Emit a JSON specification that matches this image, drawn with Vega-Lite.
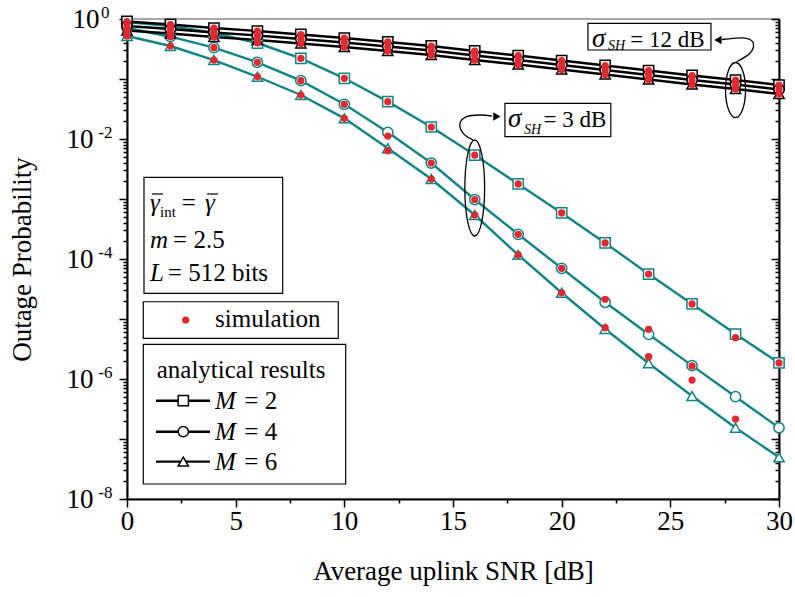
{
  "$schema": "https://vega.github.io/schema/vega-lite/v6.json",
  "width": 652,
  "height": 480,
  "autosize": {"type": "none"},
  "padding": {"left": 127, "top": 19, "right": 16, "bottom": 98},
  "config": {
    "font": "Liberation Serif",
    "view": {"stroke": "#8c8c8c", "strokeWidth": 1.5},
    "axis": {"domainColor": "#000000", "domainWidth": 2, "tickColor": "#000000", "tickWidth": 1.5, "labelColor": "#000000", "titleColor": "#000000", "labelFont": "Liberation Serif", "titleFont": "Liberation Serif", "grid": false, "titleFontWeight": "normal"}
  },
  "datasets": {
    "curves": [
      {"snr": 0, "M": "2", "s": "3", "ana": 0.891, "sim": 0.891},
      {"snr": 2, "M": "2", "s": "3", "ana": 0.764, "sim": 0.764},
      {"snr": 4, "M": "2", "s": "3", "ana": 0.584, "sim": 0.584},
      {"snr": 6, "M": "2", "s": "3", "ana": 0.398, "sim": 0.398},
      {"snr": 8, "M": "2", "s": "3", "ana": 0.221, "sim": 0.221},
      {"snr": 10, "M": "2", "s": "3", "ana": 0.1027, "sim": 0.1027},
      {"snr": 12, "M": "2", "s": "3", "ana": 0.0419, "sim": 0.0419},
      {"snr": 14, "M": "2", "s": "3", "ana": 0.01585, "sim": 0.01585},
      {"snr": 16, "M": "2", "s": "3", "ana": 0.0054, "sim": 0.0054},
      {"snr": 18, "M": "2", "s": "3", "ana": 0.00178, "sim": 0.00178},
      {"snr": 20, "M": "2", "s": "3", "ana": 5.85e-4, "sim": 5.85e-4},
      {"snr": 22, "M": "2", "s": "3", "ana": 1.85e-4, "sim": 1.85e-4},
      {"snr": 24, "M": "2", "s": "3", "ana": 5.62e-5, "sim": 5.62e-5},
      {"snr": 26, "M": "2", "s": "3", "ana": 1.78e-5, "sim": 1.78e-5},
      {"snr": 28, "M": "2", "s": "3", "ana": 5.62e-6, "sim": 4.88e-6},
      {"snr": 30, "M": "2", "s": "3", "ana": 1.85e-6, "sim": 1.85e-6},
      {"snr": 0, "M": "4", "s": "3", "ana": 0.708, "sim": 0.708},
      {"snr": 2, "M": "4", "s": "3", "ana": 0.507, "sim": 0.507},
      {"snr": 4, "M": "4", "s": "3", "ana": 0.333, "sim": 0.333},
      {"snr": 6, "M": "4", "s": "3", "ana": 0.19, "sim": 0.19},
      {"snr": 8, "M": "4", "s": "3", "ana": 0.0937, "sim": 0.0937},
      {"snr": 10, "M": "4", "s": "3", "ana": 0.0379, "sim": 0.0379},
      {"snr": 12, "M": "4", "s": "3", "ana": 0.01294, "sim": 0.0112},
      {"snr": 14, "M": "4", "s": "3", "ana": 0.00398, "sim": 0.00398},
      {"snr": 16, "M": "4", "s": "3", "ana": 9.8e-4, "sim": 9.8e-4},
      {"snr": 18, "M": "4", "s": "3", "ana": 2.58e-4, "sim": 2.58e-4},
      {"snr": 20, "M": "4", "s": "3", "ana": 7.0e-5, "sim": 7.0e-5},
      {"snr": 22, "M": "4", "s": "3", "ana": 1.9e-5, "sim": 2.13e-5},
      {"snr": 24, "M": "4", "s": "3", "ana": 5.56e-6, "sim": 6.73e-6},
      {"snr": 26, "M": "4", "s": "3", "ana": 1.67e-6, "sim": 1.65e-6},
      {"snr": 28, "M": "4", "s": "3", "ana": 5.07e-7},
      {"snr": 30, "M": "4", "s": "3", "ana": 1.54e-7},
      {"snr": 0, "M": "6", "s": "3", "ana": 0.521, "sim": 0.521},
      {"snr": 2, "M": "6", "s": "3", "ana": 0.355, "sim": 0.355},
      {"snr": 4, "M": "6", "s": "3", "ana": 0.207, "sim": 0.207},
      {"snr": 6, "M": "6", "s": "3", "ana": 0.109, "sim": 0.109},
      {"snr": 8, "M": "6", "s": "3", "ana": 0.0541, "sim": 0.0541},
      {"snr": 10, "M": "6", "s": "3", "ana": 0.0221, "sim": 0.0221},
      {"snr": 12, "M": "6", "s": "3", "ana": 0.0070, "sim": 0.00638},
      {"snr": 14, "M": "6", "s": "3", "ana": 0.00215, "sim": 0.00215},
      {"snr": 16, "M": "6", "s": "3", "ana": 5.41e-4, "sim": 5.41e-4},
      {"snr": 18, "M": "6", "s": "3", "ana": 1.17e-4, "sim": 1.17e-4},
      {"snr": 20, "M": "6", "s": "3", "ana": 2.74e-5, "sim": 2.74e-5},
      {"snr": 22, "M": "6", "s": "3", "ana": 6.81e-6, "sim": 7.16e-6},
      {"snr": 24, "M": "6", "s": "3", "ana": 1.83e-6, "sim": 2.36e-6},
      {"snr": 26, "M": "6", "s": "3", "ana": 5.21e-7, "sim": 9.6e-7},
      {"snr": 28, "M": "6", "s": "3", "ana": 1.54e-7, "sim": 2.15e-7},
      {"snr": 30, "M": "6", "s": "3", "ana": 4.95e-8},
      {"snr": 0, "M": "2", "s": "12", "ana": 0.909, "sim": 0.909},
      {"snr": 2, "M": "2", "s": "12", "ana": 0.810, "sim": 0.810},
      {"snr": 4, "M": "2", "s": "12", "ana": 0.708, "sim": 0.708},
      {"snr": 6, "M": "2", "s": "12", "ana": 0.631, "sim": 0.631},
      {"snr": 8, "M": "2", "s": "12", "ana": 0.552, "sim": 0.552},
      {"snr": 10, "M": "2", "s": "12", "ana": 0.482, "sim": 0.482},
      {"snr": 12, "M": "2", "s": "12", "ana": 0.414, "sim": 0.414},
      {"snr": 14, "M": "2", "s": "12", "ana": 0.355, "sim": 0.355},
      {"snr": 16, "M": "2", "s": "12", "ana": 0.293, "sim": 0.293},
      {"snr": 18, "M": "2", "s": "12", "ana": 0.246, "sim": 0.246},
      {"snr": 20, "M": "2", "s": "12", "ana": 0.203, "sim": 0.203},
      {"snr": 22, "M": "2", "s": "12", "ana": 0.168, "sim": 0.168},
      {"snr": 24, "M": "2", "s": "12", "ana": 0.1385, "sim": 0.1385},
      {"snr": 26, "M": "2", "s": "12", "ana": 0.1144, "sim": 0.1144},
      {"snr": 28, "M": "2", "s": "12", "ana": 0.0962, "sim": 0.0962},
      {"snr": 30, "M": "2", "s": "12", "ana": 0.0794, "sim": 0.0794},
      {"snr": 0, "M": "4", "s": "12", "ana": 0.765, "sim": 0.765},
      {"snr": 2, "M": "4", "s": "12", "ana": 0.681, "sim": 0.681},
      {"snr": 4, "M": "4", "s": "12", "ana": 0.595, "sim": 0.595},
      {"snr": 6, "M": "4", "s": "12", "ana": 0.531, "sim": 0.531},
      {"snr": 8, "M": "4", "s": "12", "ana": 0.464, "sim": 0.464},
      {"snr": 10, "M": "4", "s": "12", "ana": 0.405, "sim": 0.405},
      {"snr": 12, "M": "4", "s": "12", "ana": 0.348, "sim": 0.348},
      {"snr": 14, "M": "4", "s": "12", "ana": 0.299, "sim": 0.299},
      {"snr": 16, "M": "4", "s": "12", "ana": 0.246, "sim": 0.246},
      {"snr": 18, "M": "4", "s": "12", "ana": 0.207, "sim": 0.207},
      {"snr": 20, "M": "4", "s": "12", "ana": 0.171, "sim": 0.171},
      {"snr": 22, "M": "4", "s": "12", "ana": 0.141, "sim": 0.141},
      {"snr": 24, "M": "4", "s": "12", "ana": 0.1165, "sim": 0.1165},
      {"snr": 26, "M": "4", "s": "12", "ana": 0.0962, "sim": 0.0962},
      {"snr": 28, "M": "4", "s": "12", "ana": 0.0809, "sim": 0.0809},
      {"snr": 30, "M": "4", "s": "12", "ana": 0.0668, "sim": 0.0668},
      {"snr": 0, "M": "6", "s": "12", "ana": 0.644, "sim": 0.644},
      {"snr": 2, "M": "6", "s": "12", "ana": 0.573, "sim": 0.573},
      {"snr": 4, "M": "6", "s": "12", "ana": 0.501, "sim": 0.501},
      {"snr": 6, "M": "6", "s": "12", "ana": 0.447, "sim": 0.447},
      {"snr": 8, "M": "6", "s": "12", "ana": 0.391, "sim": 0.391},
      {"snr": 10, "M": "6", "s": "12", "ana": 0.341, "sim": 0.341},
      {"snr": 12, "M": "6", "s": "12", "ana": 0.293, "sim": 0.293},
      {"snr": 14, "M": "6", "s": "12", "ana": 0.251, "sim": 0.251},
      {"snr": 16, "M": "6", "s": "12", "ana": 0.207, "sim": 0.207},
      {"snr": 18, "M": "6", "s": "12", "ana": 0.174, "sim": 0.174},
      {"snr": 20, "M": "6", "s": "12", "ana": 0.144, "sim": 0.144},
      {"snr": 22, "M": "6", "s": "12", "ana": 0.119, "sim": 0.119},
      {"snr": 24, "M": "6", "s": "12", "ana": 0.098, "sim": 0.098},
      {"snr": 26, "M": "6", "s": "12", "ana": 0.081, "sim": 0.081},
      {"snr": 28, "M": "6", "s": "12", "ana": 0.068, "sim": 0.068},
      {"snr": 30, "M": "6", "s": "12", "ana": 0.0562, "sim": 0.0562}
    ],
    "boxes": [
      {"x1": 21.21, "x2": 26.87, "y1": 0.848, "y2": 0.3043},
      {"x1": 17.39, "x2": 22.26, "y1": 0.03936, "y2": 0.01092},
      {"x1": 0.782, "x2": 7.164, "y1": 0.0023, "y2": 2.68e-5},
      {"x1": 0.75, "x2": 9.72, "y1": 1.94e-5, "y2": 4.77e-6},
      {"x1": 0.75, "x2": 10.063, "y1": 3.79e-6, "y2": 1.778e-8}
    ],
    "bars": [
      {"x1": 1.15, "x2": 1.66, "y": 0.001212},
      {"x1": 3.68, "x2": 4.19, "y": 0.001212}
    ],
    "ellipses": [
      {"e": "1", "x": 28, "y": 0.0656},
      {"e": "2", "x": 16, "y": 0.001525}
    ],
    "arrows": [
      {"a": "1", "o": 0, "x": 28.05, "y": 0.1942},
      {"a": "1", "o": 1, "x": 28.66, "y": 0.2681},
      {"a": "1", "o": 2, "x": 28.82, "y": 0.3936},
      {"a": "1", "o": 3, "x": 28.51, "y": 0.4768},
      {"a": "1", "o": 4, "x": 27.9, "y": 0.4768},
      {"a": "1", "o": 5, "x": 27.38, "y": 0.4553},
      {"a": "2", "o": 0, "x": 15.93, "y": 0.00962},
      {"a": "2", "o": 1, "x": 15.47, "y": 0.01245},
      {"a": "2", "o": 2, "x": 15.32, "y": 0.01827},
      {"a": "2", "o": 3, "x": 15.63, "y": 0.02353},
      {"a": "2", "o": 4, "x": 16.24, "y": 0.02512},
      {"a": "2", "o": 5, "x": 16.79, "y": 0.02417}
    ],
    "heads": [
      {"a": "1", "x": 27.19, "y": 0.4467},
      {"a": "2", "x": 17.02, "y": 0.02371}
    ],
    "legend": [
      {"M": "2", "x1": 1.334, "x2": 3.819, "xm": 2.59, "y": 4.35e-7},
      {"M": "4", "x1": 1.334, "x2": 3.819, "xm": 2.59, "y": 1.324e-7},
      {"M": "6", "x1": 1.334, "x2": 3.819, "xm": 2.59, "y": 4.19e-8}
    ],
    "simdot": [{"x": 2.7, "y": 9.62e-6}],
    "texts": [
      {"r": "sig", "x": 21.4, "y": 0.3415, "t": "σ"},
      {"r": "sub", "x": 22.13, "y": 0.3043, "t": "SH"},
      {"r": "sigtxt", "x": 23.16, "y": 0.3375, "t": "= 12 dB"},
      {"r": "sig", "x": 17.53, "y": 0.01585, "t": "σ"},
      {"r": "sub", "x": 18.27, "y": 0.01212, "t": "SH"},
      {"r": "sigtxt", "x": 19.16, "y": 0.01585, "t": "= 3 dB"},
      {"r": "it", "x": 1.058, "y": 0.000631, "t": "γ"},
      {"r": "subup", "x": 1.518, "y": 0.000501, "t": "int"},
      {"r": "txt", "x": 2.517, "y": 0.000631, "t": "="},
      {"r": "it", "x": 3.589, "y": 0.000631, "t": "γ"},
      {"r": "it", "x": 1.058, "y": 0.0001508, "t": "m"},
      {"r": "txt", "x": 2.12, "y": 0.0001508, "t": "= 2.5"},
      {"r": "it", "x": 1.058, "y": 4.35e-5, "t": "L"},
      {"r": "txt", "x": 1.88, "y": 4.35e-5, "t": "= 512 bits"},
      {"r": "txt", "x": 4.05, "y": 7.36e-6, "t": "simulation"},
      {"r": "txt", "x": 1.367, "y": 1.04e-6, "t": "analytical results"},
      {"r": "it", "x": 4.05, "y": 3.2e-7, "t": "M"},
      {"r": "txt", "x": 5.4, "y": 3.2e-7, "t": "= 2"},
      {"r": "it", "x": 4.05, "y": 9.73e-8, "t": "M"},
      {"r": "txt", "x": 5.4, "y": 9.73e-8, "t": "= 4"},
      {"r": "it", "x": 4.05, "y": 3.08e-8, "t": "M"},
      {"r": "txt", "x": 5.4, "y": 3.08e-8, "t": "= 6"}
    ]
  },
  "resolve": {"axis": {"x": "independent", "y": "independent"}},
  "layer": [
    {
      "data": {"name": "curves"},
      "mark": {"type": "line", "strokeWidth": 2.4},
      "encoding": {
        "x": {"field": "snr", "type": "quantitative", "scale": {"domain": [0, 30], "nice": false},
          "axis": {"orient": "bottom", "values": [0, 2.5, 5, 7.5, 10, 12.5, 15, 17.5, 20, 22.5, 25, 27.5, 30], "title": "Average uplink SNR [dB]", "titleFontSize": 27, "titlePadding": 24, "labelFontSize": 27, "labelPadding": 1, "labelFlush": false, "labelOverlap": false,
            "labelExpr": "datum.value % 5 == 0 ? format(datum.value, 'd') : ''",
            "tickSize": {"condition": {"test": "datum.value % 5 == 0", "value": 8}, "value": 4}}},
        "y": {"field": "ana", "type": "quantitative", "scale": {"type": "log", "domain": [1e-8, 1], "nice": false},
          "axis": {"orient": "left", "title": "Outage Probability", "titleFontSize": 27, "titlePadding": 30, "labelFontSize": 27, "labelOverlap": false, "labelBaseline": "middle", "labelFlush": false,
            "values": [1, 0.9, 0.8, 0.7, 0.6, 0.5, 0.4, 0.3, 0.2, 0.1, 9e-2, 8e-2, 7e-2, 6e-2, 5e-2, 4e-2, 3e-2, 2e-2, 1e-2, 9e-3, 8e-3, 7e-3, 6e-3, 5e-3, 4e-3, 3e-3, 2e-3, 1e-3, 9e-4, 8e-4, 7e-4, 6e-4, 5e-4, 4e-4, 3e-4, 2e-4, 1e-4, 9e-5, 8e-5, 7e-5, 6e-5, 5e-5, 4e-5, 3e-5, 2e-5, 1e-5, 9e-6, 8e-6, 7e-6, 6e-6, 5e-6, 4e-6, 3e-6, 2e-6, 1e-6, 9e-7, 8e-7, 7e-7, 6e-7, 5e-7, 4e-7, 3e-7, 2e-7, 1e-7, 9e-8, 8e-8, 7e-8, 6e-8, 5e-8, 4e-8, 3e-8, 2e-8, 1e-8],
            "labelExpr": "(abs(log(datum.value)/LN10 - round(log(datum.value)/LN10)) < 0.001 && round(log(datum.value)/LN10) % 2 == 0) ? '10' : ''",
            "labelPadding": {"condition": {"test": "datum.value == 1", "value": 20}, "value": 26},
            "tickSize": {"condition": {"test": "abs(log(datum.value)/LN10 - round(log(datum.value)/LN10)) < 0.001", "value": 8}, "value": 4}}},
        "color": {"field": "s", "type": "nominal", "scale": {"domain": ["3", "12"], "range": ["#0e8585", "#000000"]}, "legend": null},
        "detail": {"field": "M"}
      }
    },
    {
      "data": {"name": "curves"},
      "mark": {"type": "point", "fill": "#ffffff", "filled": true, "size": 105, "strokeWidth": 1.5, "opacity": 1},
      "encoding": {
        "x": {"field": "snr", "type": "quantitative", "axis": null},
        "y": {"field": "ana", "type": "quantitative",
          "axis": {"orient": "left", "title": null, "ticks": false, "tickSize": 0, "domain": false, "labelFontSize": 17, "labelOverlap": false, "labelBaseline": "middle", "labelFlush": false, "labelOffset": -7,
            "values": [1, 0.01, 0.0001, 0.000001, 1e-8],
            "labelExpr": "datum.value == 1 ? '0' : '-' + format(-round(log(datum.value)/LN10), 'd')",
            "labelPadding": {"condition": {"test": "datum.value == 1", "value": 18}, "value": 15}}},
        "stroke": {"field": "s", "type": "nominal", "scale": {"domain": ["3", "12"], "range": ["#0e8585", "#000000"]}, "legend": null},
        "shape": {"field": "M", "type": "nominal", "scale": {"domain": ["2", "4", "6"], "range": ["square", "circle", "triangle-up"]}, "legend": null}
      }
    },
    {
      "data": {"name": "curves"},
      "transform": [{"filter": "isValid(datum.sim)"}],
      "mark": {"type": "circle", "size": 52, "color": "#e8262d", "opacity": 1},
      "encoding": {
        "x": {"field": "snr", "type": "quantitative", "axis": null},
        "y": {"field": "sim", "type": "quantitative",
          "axis": {"orient": "right", "title": null, "labels": false,
            "values": [1, 0.9, 0.8, 0.7, 0.6, 0.5, 0.4, 0.3, 0.2, 0.1, 9e-2, 8e-2, 7e-2, 6e-2, 5e-2, 4e-2, 3e-2, 2e-2, 1e-2, 9e-3, 8e-3, 7e-3, 6e-3, 5e-3, 4e-3, 3e-3, 2e-3, 1e-3, 9e-4, 8e-4, 7e-4, 6e-4, 5e-4, 4e-4, 3e-4, 2e-4, 1e-4, 9e-5, 8e-5, 7e-5, 6e-5, 5e-5, 4e-5, 3e-5, 2e-5, 1e-5, 9e-6, 8e-6, 7e-6, 6e-6, 5e-6, 4e-6, 3e-6, 2e-6, 1e-6, 9e-7, 8e-7, 7e-7, 6e-7, 5e-7, 4e-7, 3e-7, 2e-7, 1e-7, 9e-8, 8e-8, 7e-8, 6e-8, 5e-8, 4e-8, 3e-8, 2e-8, 1e-8],
            "tickSize": {"condition": {"test": "abs(log(datum.value)/LN10 - round(log(datum.value)/LN10)) < 0.001", "value": -8}, "value": -4}}}
      }
    },
    {
      "data": {"name": "boxes"},
      "mark": {"type": "rect", "fill": "#ffffff", "stroke": "#000000", "strokeWidth": 1.2},
      "encoding": {
        "x": {"field": "x1", "type": "quantitative", "axis": null},
        "x2": {"field": "x2"},
        "y": {"field": "y1", "type": "quantitative", "axis": null},
        "y2": {"field": "y2"}
      }
    },
    {
      "data": {"name": "bars"},
      "mark": {"type": "rule", "color": "#000000", "strokeWidth": 1.2},
      "encoding": {
        "x": {"field": "x1", "type": "quantitative", "axis": null},
        "x2": {"field": "x2"},
        "y": {"field": "y", "type": "quantitative", "axis": null}
      }
    },
    {
      "data": {"name": "ellipses"},
      "transform": [{"filter": "datum.e == '1'"}],
      "mark": {"type": "point", "shape": "M0,-1 A0.364,1 0 1,1 0,1 A0.364,1 0 1,1 0,-1", "size": 3025, "filled": false, "stroke": "#000000", "strokeWidth": 1.3, "opacity": 1},
      "encoding": {
        "x": {"field": "x", "type": "quantitative", "axis": null},
        "y": {"field": "y", "type": "quantitative", "axis": null}
      }
    },
    {
      "data": {"name": "ellipses"},
      "transform": [{"filter": "datum.e == '2'"}],
      "mark": {"type": "point", "shape": "M0,-1 A0.206,1 0 1,1 0,1 A0.206,1 0 1,1 0,-1", "size": 9216, "filled": false, "stroke": "#000000", "strokeWidth": 1.3, "opacity": 1},
      "encoding": {
        "x": {"field": "x", "type": "quantitative", "axis": null},
        "y": {"field": "y", "type": "quantitative", "axis": null}
      }
    },
    {
      "data": {"name": "arrows"},
      "mark": {"type": "line", "interpolate": "cardinal", "color": "#000000", "strokeWidth": 1.3},
      "encoding": {
        "x": {"field": "x", "type": "quantitative", "axis": null},
        "y": {"field": "y", "type": "quantitative", "axis": null},
        "detail": {"field": "a"},
        "order": {"field": "o", "type": "quantitative"}
      }
    },
    {
      "data": {"name": "heads"},
      "transform": [{"filter": "datum.a == '1'"}],
      "mark": {"type": "point", "shape": "triangle-left", "size": 70, "filled": true, "color": "#000000", "opacity": 1},
      "encoding": {
        "x": {"field": "x", "type": "quantitative", "axis": null},
        "y": {"field": "y", "type": "quantitative", "axis": null}
      }
    },
    {
      "data": {"name": "heads"},
      "transform": [{"filter": "datum.a == '2'"}],
      "mark": {"type": "point", "shape": "triangle-right", "size": 70, "filled": true, "color": "#000000", "opacity": 1},
      "encoding": {
        "x": {"field": "x", "type": "quantitative", "axis": null},
        "y": {"field": "y", "type": "quantitative", "axis": null}
      }
    },
    {
      "data": {"name": "legend"},
      "mark": {"type": "rule", "color": "#000000", "strokeWidth": 2.4},
      "encoding": {
        "x": {"field": "x1", "type": "quantitative", "axis": null},
        "x2": {"field": "x2"},
        "y": {"field": "y", "type": "quantitative", "axis": null}
      }
    },
    {
      "data": {"name": "legend"},
      "mark": {"type": "point", "fill": "#ffffff", "filled": true, "stroke": "#000000", "size": 105, "strokeWidth": 1.5, "opacity": 1},
      "encoding": {
        "x": {"field": "xm", "type": "quantitative", "axis": null},
        "y": {"field": "y", "type": "quantitative", "axis": null},
        "shape": {"field": "M", "type": "nominal", "legend": null}
      }
    },
    {
      "data": {"name": "simdot"},
      "mark": {"type": "circle", "size": 52, "color": "#e8262d", "opacity": 1},
      "encoding": {
        "x": {"field": "x", "type": "quantitative", "axis": null},
        "y": {"field": "y", "type": "quantitative", "axis": null}
      }
    },
    {
      "data": {"name": "texts"},
      "transform": [{"filter": "datum.r == 'txt'"}],
      "mark": {"type": "text", "align": "left", "baseline": "alphabetic", "fontSize": 25, "font": "Liberation Serif", "color": "#000000"},
      "encoding": {
        "x": {"field": "x", "type": "quantitative", "axis": null},
        "y": {"field": "y", "type": "quantitative", "axis": null},
        "text": {"field": "t"}
      }
    },
    {
      "data": {"name": "texts"},
      "transform": [{"filter": "datum.r == 'it'"}],
      "mark": {"type": "text", "align": "left", "baseline": "alphabetic", "fontSize": 25, "fontStyle": "italic", "font": "Liberation Serif", "color": "#000000"},
      "encoding": {
        "x": {"field": "x", "type": "quantitative", "axis": null},
        "y": {"field": "y", "type": "quantitative", "axis": null},
        "text": {"field": "t"}
      }
    },
    {
      "data": {"name": "texts"},
      "transform": [{"filter": "datum.r == 'sig'"}],
      "mark": {"type": "text", "align": "left", "baseline": "alphabetic", "fontSize": 27, "fontStyle": "italic", "font": "Liberation Serif", "color": "#000000"},
      "encoding": {
        "x": {"field": "x", "type": "quantitative", "axis": null},
        "y": {"field": "y", "type": "quantitative", "axis": null},
        "text": {"field": "t"}
      }
    },
    {
      "data": {"name": "texts"},
      "transform": [{"filter": "datum.r == 'sigtxt'"}],
      "mark": {"type": "text", "align": "left", "baseline": "alphabetic", "fontSize": 23, "font": "Liberation Serif", "color": "#000000"},
      "encoding": {
        "x": {"field": "x", "type": "quantitative", "axis": null},
        "y": {"field": "y", "type": "quantitative", "axis": null},
        "text": {"field": "t"}
      }
    },
    {
      "data": {"name": "texts"},
      "transform": [{"filter": "datum.r == 'sub'"}],
      "mark": {"type": "text", "align": "left", "baseline": "alphabetic", "fontSize": 14, "fontStyle": "italic", "font": "Liberation Serif", "color": "#000000"},
      "encoding": {
        "x": {"field": "x", "type": "quantitative", "axis": null},
        "y": {"field": "y", "type": "quantitative", "axis": null},
        "text": {"field": "t"}
      }
    },
    {
      "data": {"name": "texts"},
      "transform": [{"filter": "datum.r == 'subup'"}],
      "mark": {"type": "text", "align": "left", "baseline": "alphabetic", "fontSize": 15, "font": "Liberation Serif", "color": "#000000"},
      "encoding": {
        "x": {"field": "x", "type": "quantitative", "axis": null},
        "y": {"field": "y", "type": "quantitative", "axis": null},
        "text": {"field": "t"}
      }
    }
  ]
}
